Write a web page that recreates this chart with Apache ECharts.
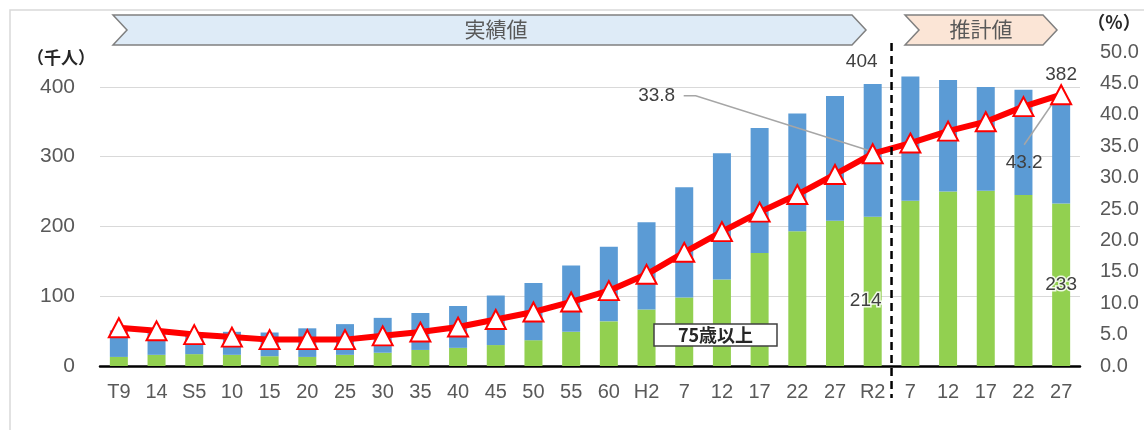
<!DOCTYPE html>
<html>
<head>
<meta charset="utf-8">
<script src="https://cdn.jsdelivr.net/npm/echarts@6/dist/echarts.min.js"></script>
<style>
  html, body { margin: 0; padding: 0; background: #fff; }
  #chart { width: 1144px; height: 430px; }
</style>
</head>
<body>
<div id="chart"></div>
<script>
// 調査年（大正・昭和・平成・令和）と推計年
const categories = ['T9','14','S5','10','15','20','25','30','35','40','45','50','55','60','H2','7','12','17','22','27','R2','7','12','17','22','27'];
// 65歳以上人口（千人）
const total65 = [51,50,48,49,48,54,60,69,76,86,101,119,144,171,206,256,305,341,362,387,404,415,410,400,396,382];
// 75歳以上人口（千人）
const over75 = [13,16,17,16,14,13,16,19,23,26,30,37,49,64,81,98,124,162,193,208,214,237,250,251,245,233];
// 高齢化率（%）
const agingRate = [6.1,5.6,5.0,4.6,4.2,4.2,4.2,4.8,5.4,6.2,7.4,8.6,10.2,12.0,14.6,18.1,21.4,24.5,27.3,30.5,33.8,35.5,37.4,38.9,41.3,43.2];
// 左軸・右軸の目盛
const leftTicks = { min: 0, max: 450, interval: 100 };
const rightTicks = { min: 0, max: 50, interval: 5 };

const idxR2 = categories.indexOf('R2');
const idxLast = categories.length - 1;
const lastActual = idxR2; // 実績値の最終年

const NUM_FONT = "'Liberation Sans', Arial, sans-serif";
const JP_FONT = "'Noto Sans CJK JP', 'Noto Sans', sans-serif";
const labelBase = { color: '#404040', fontSize: 19, fontFamily: NUM_FONT };

// 65〜74歳部分（積み上げの上段）
const blueData = total65.map((t, i) => {
  const item = { value: t - over75[i] };
  if (i === idxR2) {
    item.label = Object.assign({ show: true, position: 'top', distance: 13, offset: [-11, 0] }, labelBase,
      { formatter: () => String(total65[i]) });
  } else if (i === idxLast) {
    item.label = Object.assign({ show: true, position: 'top', distance: 15, offset: [0, 0] }, labelBase,
      { formatter: () => String(total65[i]) });
  }
  return item;
});

const greenData = over75.map((v, i) => {
  const item = { value: v };
  if (i === idxR2 || i === idxLast) {
    item.label = Object.assign({
      show: true, position: 'inside', offset: i === idxR2 ? [-7, 9] : [0, 0],
      textBorderColor: 'rgba(255,255,255,0.85)', textBorderWidth: 3
    }, labelBase);
  }
  return item;
});

const rateLabelOffsets = {};
rateLabelOffsets[idxR2] = [-216, -58];
rateLabelOffsets[idxLast] = [-37, 68];

const rateData = agingRate.map((v, i) => {
  const item = { value: v };
  if (rateLabelOffsets[i]) {
    item.label = Object.assign({ show: true, position: 'inside', offset: rateLabelOffsets[i],
      formatter: p => p.value.toFixed(1) }, labelBase);
  }
  return item;
});

const chart = echarts.init(document.getElementById('chart'), null, { renderer: 'canvas' });

const gridColor = '#d9d9d9';

chart.setOption({
  animation: false,
  backgroundColor: '#ffffff',
  grid: { left: 100, right: 64, top: 52, bottom: 64, containLabel: false },
  xAxis: {
    type: 'category',
    data: categories,
    boundaryGap: true,
    axisLine: { show: true, lineStyle: { color: '#000', width: 2.5 } },
    axisTick: { show: false },
    axisLabel: { interval: 0, margin: 16, color: '#595959', fontSize: 20, fontFamily: NUM_FONT }
  },
  yAxis: [
    {
      type: 'value',
      min: leftTicks.min, max: leftTicks.max, interval: leftTicks.interval,
      axisLine: { show: false },
      axisTick: { show: false },
      axisLabel: { margin: 25, color: '#595959', fontSize: 21, fontFamily: NUM_FONT, showMaxLabel: false },
      splitLine: { show: true, lineStyle: { color: [gridColor, gridColor, gridColor, gridColor, gridColor, 'rgba(0,0,0,0)'], width: 1.2 } }
    },
    {
      type: 'value',
      min: rightTicks.min, max: rightTicks.max, interval: rightTicks.interval,
      axisLine: { show: false },
      axisTick: { show: false },
      splitLine: { show: false },
      axisLabel: { margin: 20, color: '#595959', fontSize: 20, fontFamily: NUM_FONT,
        formatter: v => v.toFixed(1) }
    }
  ],
  series: [
    {
      name: '75歳以上',
      type: 'bar',
      stack: 'pop',
      barWidth: 18,
      z: 2,
      itemStyle: { color: '#92D050' },
      data: greenData
    },
    {
      name: '65〜74歳',
      type: 'bar',
      stack: 'pop',
      barWidth: 18,
      z: 2,
      itemStyle: { color: '#5B9BD5' },
      data: blueData
    },
    {
      name: '高齢化率',
      type: 'line',
      yAxisIndex: 1,
      z: 5,
      symbol: 'triangle',
      symbolSize: [20, 19],
      showAllSymbol: true,
      lineStyle: { color: '#FF0000', width: 6 },
      itemStyle: { color: '#ffffff', borderColor: '#FF0000', borderWidth: 2 },
      data: rateData
    }
  ]
});

// 注記（帯・区切り線・引出線・凡例枠）
function banner(x0, x1, y0, y1, notch, fill) {
  const ym = (y0 + y1) / 2;
  return {
    type: 'polygon', z: 10,
    shape: { points: [[x0, y0], [x1, y0], [x1 + notch, ym], [x1, y1], [x0, y1], [x0 + notch, ym]] },
    style: { fill: fill, stroke: '#808080', lineWidth: 1.5 }
  };
}

const band = chart.convertToPixel({ xAxisIndex: 0 }, 1) - chart.convertToPixel({ xAxisIndex: 0 }, 0);
const splitX = chart.convertToPixel({ xAxisIndex: 0 }, lastActual) + band / 2;

const pR2 = chart.convertToPixel({ xAxisIndex: 0, yAxisIndex: 1 }, [idxR2, agingRate[idxR2]]);
const pLast = chart.convertToPixel({ xAxisIndex: 0, yAxisIndex: 1 }, [idxLast, agingRate[idxLast]]);
const lblR2 = [pR2[0] + rateLabelOffsets[idxR2][0], pR2[1] + rateLabelOffsets[idxR2][1]];
const lblLast = [pLast[0] + rateLabelOffsets[idxLast][0], pLast[1] + rateLabelOffsets[idxLast][1]];

chart.setOption({
  graphic: [
    // 外枠
    { type: 'rect', z: 0, shape: { x: 10, y: 10, width: 1200, height: 500 },
      style: { fill: null, stroke: '#d9d9d9', lineWidth: 1.5 } },
    banner(113, 852, 15, 45, 14, '#DEEBF7'),
    { type: 'text', z: 11, style: { text: '実績値', x: 496, y: 29, align: 'center', verticalAlign: 'middle',
      fill: '#595959', font: "21px " + JP_FONT } },
    banner(905, 1043, 15, 45, 14, '#FBE5D6'),
    { type: 'text', z: 11, style: { text: '推計値', x: 981, y: 29, align: 'center', verticalAlign: 'middle',
      fill: '#595959', font: "21px " + JP_FONT } },
    // 軸の単位
    { type: 'text', z: 11, style: { text: '（千人）', x: 61, y: 58, align: 'center', verticalAlign: 'middle',
      fill: '#262626', font: "bold 17px " + JP_FONT } },
    { type: 'text', z: 11, style: { text: '（%）', x: 1114, y: 22, align: 'center', verticalAlign: 'middle',
      fill: '#262626', font: "bold 18px " + JP_FONT } },
    // 実績値と推計値の区切り
    { type: 'line', z: 6, shape: { x1: splitX, y1: 43, x2: splitX, y2: 398 },
      style: { stroke: '#000', lineWidth: 2.5, lineDash: [8, 5] } },
    // 高齢化率ラベルの引出線
    { type: 'polyline', z: 4,
      shape: { points: [[lblR2[0] + 27, lblR2[1]], [lblR2[0] + 39, lblR2[1]], [pR2[0] - 3, pR2[1] - 3]] },
      style: { fill: null, stroke: '#a6a6a6', lineWidth: 1.5 } },
    { type: 'polyline', z: 4,
      shape: { points: [[lblLast[0], lblLast[1] - 18], [pLast[0] - 2, pLast[1] - 1]] },
      style: { fill: null, stroke: '#a6a6a6', lineWidth: 1.5 } },
    // 75歳以上 の凡例枠
    { type: 'rect', z: 7, shape: { x: 654, y: 324, width: 123, height: 22 },
      style: { fill: '#ffffff', stroke: '#404040', lineWidth: 1.5 } },
    { type: 'text', z: 8, style: { text: '75歳以上', x: 715.5, y: 335.5, align: 'center', verticalAlign: 'middle',
      fill: '#262626', font: "bold 18px " + JP_FONT } }
  ]
});
</script>
</body>
</html>
